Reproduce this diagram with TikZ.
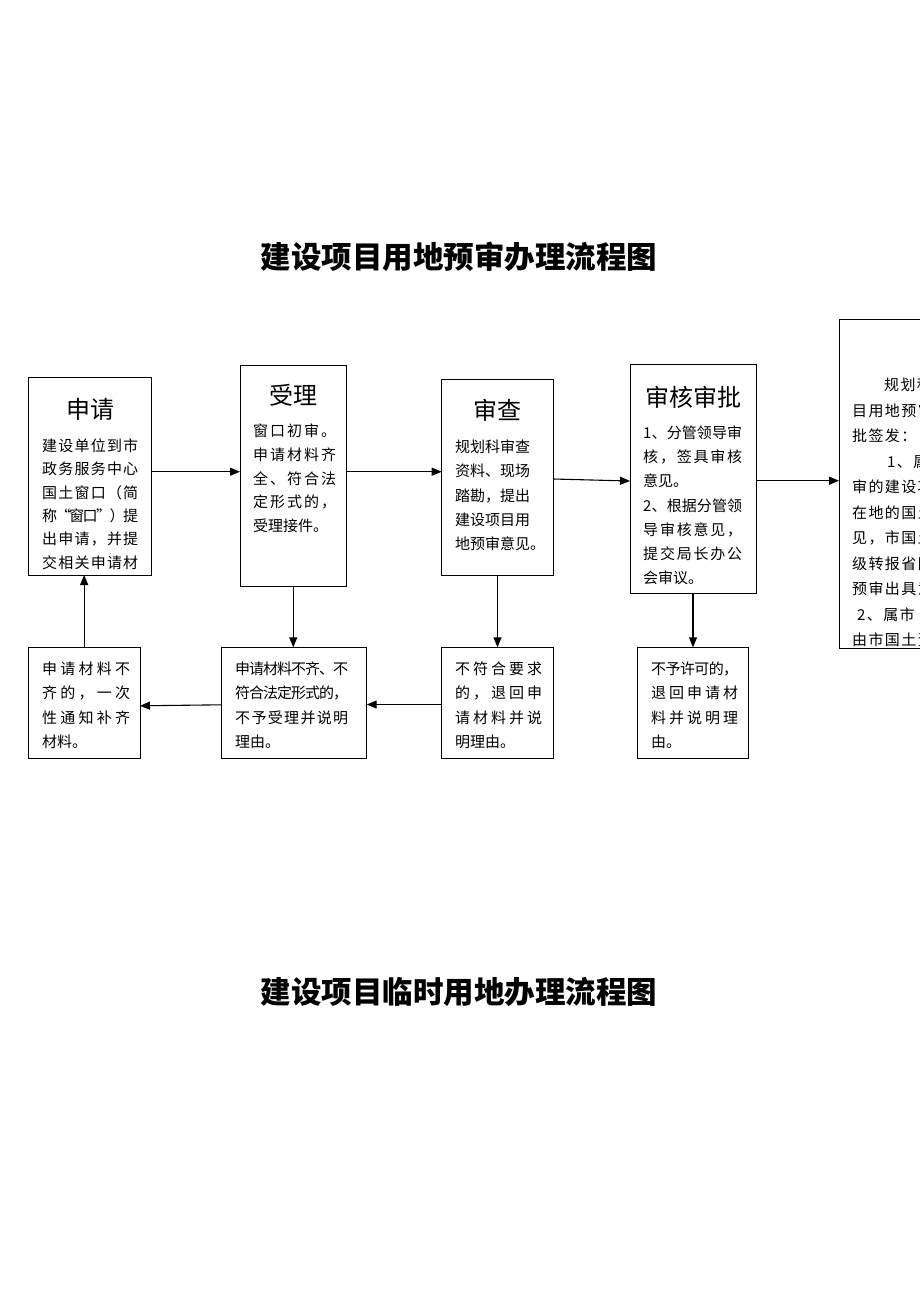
\documentclass[tikz,border=0pt]{standalone}
\usepackage{fontspec}
\setmainfont{Noto Sans CJK SC}
\usetikzlibrary{arrows.meta}
\makeatletter
\def\jsep{\hskip 0pt plus 1fil minus 1fil}
\def\jw{90pt}
\newcommand\jl[2][\jw]{\makebox[#1][s]{\jl@a#2\@nil}}
\def\jl@a#1#2\@nil{#1\ifx\relax#2\relax\else\jsep\jl@a#2\@nil\fi}
\newcommand\ls[1]{{\def\jsep{\hskip1.4pt}\jl@a#1\@nil}}
\makeatother
\newcommand\fs{\rule{0pt}{13.5pt}}
\begin{document}
\begin{tikzpicture}[x=1pt,y=-1pt,
  box/.style={draw, line width=1pt, inner sep=0pt, outer sep=0pt, anchor=north west},
  hd/.style={font=\fontsize{24}{24}\selectfont, inner sep=0pt, anchor=base},
  body/.style={align=left, inner sep=0pt, anchor=north west, font=\fontsize{15}{#1}\selectfont},
  jw/.code={\def\jw{#1}},
  arr/.style={line width=1.1pt, -{Triangle[length=10pt,width=8pt]}},
  title/.style={font=\fontsize{30.5}{30.5}\selectfont\bfseries, inner sep=0pt, anchor=base}]
\useasboundingbox (0,0) rectangle (920,1302);
\clip (0,0) rectangle (920,1302);

% titles
\node[title] (T1) at (459,268.4) {建设项目用地预审办理流程图};
\node[title] (T2) at (459,1003.4) {建设项目临时用地办理流程图};

% top row boxes
\node[box, minimum width=123.4pt, minimum height=197.7pt] (A) at (28.3,377.3) {};
\node[box, minimum width=106.5pt, minimum height=221.7pt] (B) at (240,365) {};
\node[box, minimum width=111.6pt, minimum height=196.7pt] (C) at (441.7,379) {};
\node[box, minimum width=126pt, minimum height=229pt] (D) at (630,364.3) {};
\node[box, minimum width=200pt, minimum height=329pt] (E) at (839,319.3) {};

% bottom row boxes
\node[box, minimum width=111.7pt, minimum height=111pt] (F) at (28.3,647.3) {};
\node[box, minimum width=145pt, minimum height=111pt] (G) at (221.7,647.3) {};
\node[box, minimum width=111.6pt, minimum height=111pt] (H) at (441.7,647.3) {};
\node[box, minimum width=111pt, minimum height=111pt] (I) at (637.3,647.3) {};

% headers
\node[hd] (Ah) at (90,418.1) {申请};
\node[hd] (Bh) at (293.3,404.1) {受理};
\node[hd] (Ch) at (497.5,419.1) {审查};
\node[hd] (Dh) at (693,406.6) {审核审批};

% bodies
\node[body=23.3pt, jw=96pt] (At) at (42,437.9) {\fs\jl{建设单位到市}\\\jl{政务服务中心}\\\jl{国土窗口（简}\\\jl{称“窗口”）提}\\\jl{出申请，并提}\\\jl{交相关申请材}};
\node[body=23.7pt, jw=83pt] (Bt) at (253,422.9) {\fs\jl{窗口初审。}\\\jl{申请材料齐}\\\jl{全、符合法}\\\jl{定形式的，}\\受理接件。};
\node[body=24.3pt] (Ct) at (455,438.9) {\fs 规划科审查\\资料、现场\\踏勘，提出\\建设项目用\\地预审意见。};
\node[body=24.2pt, jw=99pt] (Dt) at (643,424.7) {\fs\jl{1、分管领导审}\\\jl{核，签具审核}\\意见。\\\jl{2、根据分管领}\\\jl{导审核意见，}\\\jl{提交局长办公}\\会审议。};
\node[body=25.5pt] (Et) at (852,377.2) {\fs\hspace*{32pt}\ls{规划科}\\\ls{目用地预审}\\\ls{批签发：}\\\hspace*{35pt}\ls{1、属}\\\ls{审的建设项}\\\ls{在地的国土}\\\ls{见，市国土}\\\ls{级转报省国}\\\ls{预审出具意}\\\hspace*{5pt}\ls{2、属市}\\\ls{由市国土资}};
\node[body=24.5pt, jw=88pt] (Ft) at (42,660.5) {\fs\jl{申请材料不}\\\jl{齐的，一次}\\\jl{性通知补齐}\\材料。};
\node[body=24.5pt, jw=113pt] (Gt) at (235,660.5) {\fs\jl{申请材料不齐、不}\\\jl{符合法定形式的，}\\\jl{不予受理并说明}\\理由。};
\node[body=24.5pt, jw=87pt] (Ht) at (455,660.5) {\fs\jl{不符合要求}\\\jl{的，退回申}\\\jl{请材料并说}\\明理由。};
\node[body=24.5pt, jw=87pt] (It) at (651,660.5) {\fs\jl{不予许可的，}\\\jl{退回申请材}\\\jl{料并说明理}\\由。};

% arrow levels
\coordinate (r1) at (0,471.7);
\coordinate (c1) at (0,479);
\coordinate (c2) at (0,481);
\coordinate (r2) at (0,480.7);
\coordinate (r3) at (0,704.5);
\coordinate (g1) at (0,704.8);
\coordinate (g2) at (0,705.8);

\draw[arr] (A.east |- r1) -- (B.west |- r1);
\draw[arr] (B.east |- r1) -- (C.west |- r1);
\draw[arr] (C.east |- c1) -- (D.west |- c2);
\draw[arr] (D.east |- r2) -- (E.west |- r2);
\draw[arr] (B.south) -- (B.south |- G.north);
\draw[arr] (C.south) -- (C.south |- H.north);
\draw[arr] (D.south) -- (D.south |- I.north);
\draw[arr] (H.west |- r3) -- (G.east |- r3);
\draw[arr] (G.west |- g1) -- (F.east |- g2);
\draw[arr] (F.north) -- (F.north |- A.south);
\end{tikzpicture}
\end{document}
